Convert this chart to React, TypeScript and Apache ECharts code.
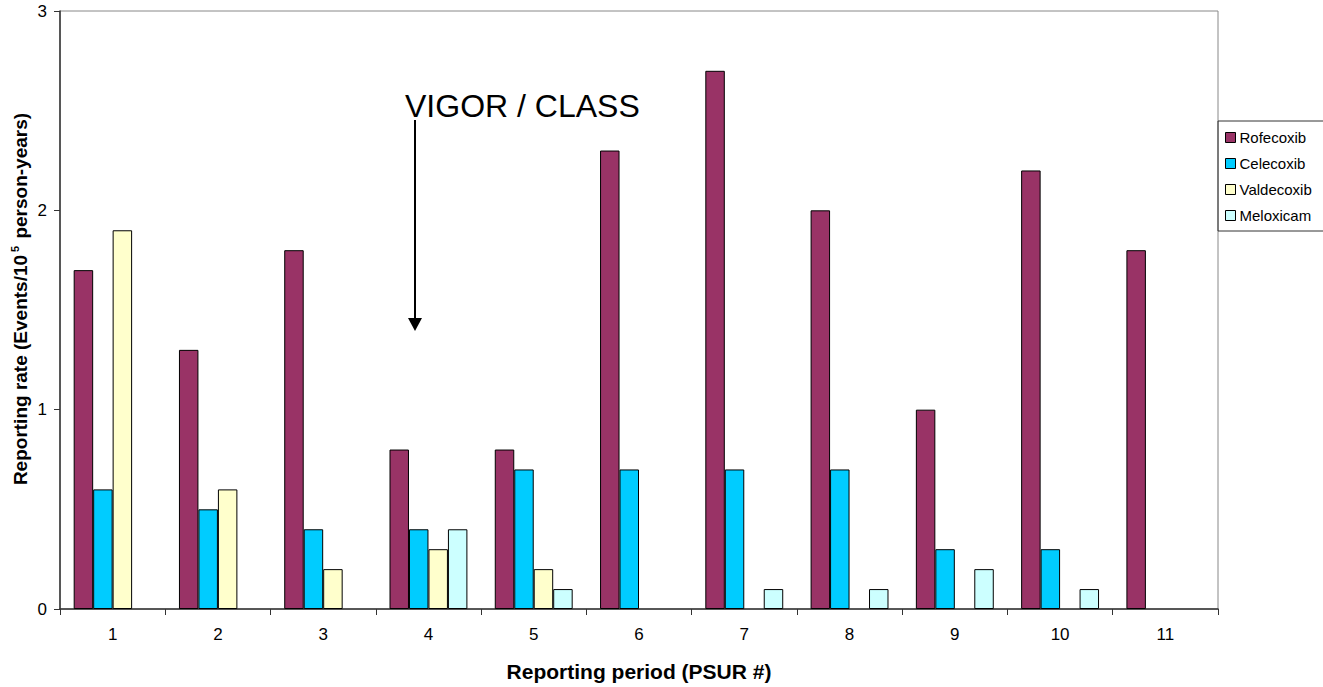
import React, { useEffect, useRef } from "react";
import * as echarts from "echarts";

const categories = ["1", "2", "3", "4", "5", "6", "7", "8", "9", "10", "11"];
const rofecoxib = [1.7, 1.3, 1.8, 0.8, 0.8, 2.3, 2.7, 2.0, 1.0, 2.2, 1.8];
const celecoxib = [0.6, 0.5, 0.4, 0.4, 0.7, 0.7, 0.7, 0.7, 0.3, 0.3, null];
const valdecoxib = [1.9, 0.6, 0.2, 0.3, 0.2, null, null, null, null, null, null];
const meloxicam = [null, null, null, 0.4, 0.1, null, 0.1, 0.1, 0.2, 0.1, null];
const yTicks = [0, 1, 2, 3];

const FONT = "Arial, 'Liberation Sans', sans-serif";

export default function App() {
  const ref = useRef<HTMLDivElement>(null);
  useEffect(() => {
    if (!ref.current) return;
    const chart = echarts.init(ref.current, undefined, { renderer: "svg" });
    const mk = (name: string, data: (number | null)[], color: string) => ({
      name,
      type: "bar",
      data,
      barGap: "0%",
      barCategoryGap: "26%",
      itemStyle: { color, borderColor: "#000", borderWidth: 1 },
    });
    chart.setOption({
      animation: false,
      backgroundColor: "#fff",
      textStyle: { fontFamily: FONT },
      grid: {
        left: 60,
        right: 105,
        top: 11,
        bottom: 77,
        show: true,
        borderColor: "#888",
        borderWidth: 1,
      },
      legend: {
        orient: "vertical",
        left: 1218,
        top: 121,
        width: 102,
        padding: [9, 12, 8, 7],
        itemGap: 11,
        itemWidth: 10,
        itemHeight: 10,
        borderColor: "#333",
        borderWidth: 1,
        icon: "rect",
        itemStyle: { borderColor: "#000", borderWidth: 1 },
        textStyle: { fontFamily: FONT, fontSize: 15, color: "#000", padding: [0, 0, 0, -1] },
        data: ["Rofecoxib", "Celecoxib", "Valdecoxib", "Meloxicam"],
      },
      xAxis: {
        type: "category",
        data: categories,
        name: "Reporting period (PSUR #)",
        nameLocation: "middle",
        nameGap: 52,
        nameTextStyle: { fontFamily: FONT, fontSize: 21, fontWeight: "bold", color: "#000" },
        axisLine: { lineStyle: { color: "#333", width: 1.5 } },
        axisTick: { show: true, length: 6, lineStyle: { color: "#333" } },
        axisLabel: { fontFamily: FONT, fontSize: 17, color: "#000", margin: 17 },
      },
      yAxis: {
        type: "value",
        min: yTicks[0],
        max: yTicks[yTicks.length - 1],
        interval: 1,
        axisLine: { show: true, lineStyle: { color: "#333", width: 1.5 } },
        axisTick: { show: true, length: 6, lineStyle: { color: "#333" } },
        splitLine: { show: false },
        axisLabel: { fontFamily: FONT, fontSize: 17, color: "#000", margin: 13 },
      },
      series: [
        mk("Rofecoxib", rofecoxib, "#993366"),
        mk("Celecoxib", celecoxib, "#00CCFF"),
        mk("Valdecoxib", valdecoxib, "#FFFFCC"),
        mk("Meloxicam", meloxicam, "#CCFFFF"),
      ],
      graphic: [
        {
          type: "text",
          x: 20,
          y: 299,
          rotation: Math.PI / 2,
          style: {
            text: "Reporting rate (Events/10{sup|5} person-years)",
            fontFamily: FONT,
            fontSize: 19,
            fontWeight: "bold",
            fill: "#000",
            align: "center",
            verticalAlign: "middle",
            rich: {
              sup: {
                fontFamily: FONT,
                fontSize: 11,
                fontWeight: "bold",
                fill: "#000",
                padding: [0, 2, 10, 3],
              },
            },
          },
        },
        {
          type: "text",
          x: 405,
          y: 106,
          style: {
            text: "VIGOR / CLASS",
            fontFamily: FONT,
            fontSize: 32,
            fill: "#000",
            align: "left",
            verticalAlign: "middle",
          },
        },
        {
          type: "line",
          shape: { x1: 415, y1: 120, x2: 415, y2: 320 },
          style: { stroke: "#000", lineWidth: 2 },
        },
        {
          type: "polygon",
          shape: { points: [[408, 318], [422, 318], [415, 331]] },
          style: { fill: "#000" },
        },
      ],
    });
    return () => chart.dispose();
  }, []);
  return (
    <div
      ref={ref}
      style={{ position: "fixed", left: 0, top: 0, width: 1323, height: 687 }}
    />
  );
}
